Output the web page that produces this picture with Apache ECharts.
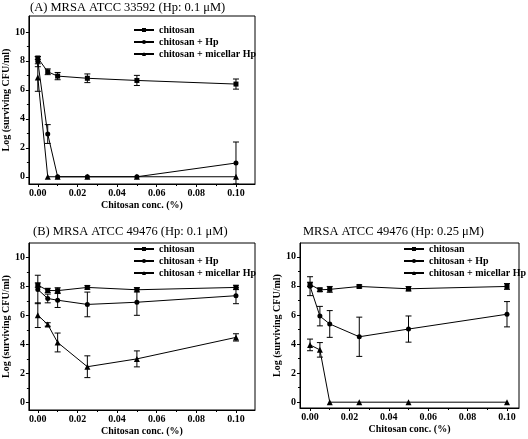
<!DOCTYPE html>
<html><head><meta charset="utf-8">
<script src="https://cdn.jsdelivr.net/npm/echarts@6/dist/echarts.min.js"></script>
<style>html,body{margin:0;padding:0;background:#fff}#c{width:528px;height:439px}</style>
</head><body><div id="c"></div>
<script>
const conc = [0, 0.005, 0.01, 0.025, 0.05, 0.1];
const seriesNames = ['chitosan', 'chitosan + Hp', 'chitosan + micellar Hp'];
const panelTitles = ['(A) MRSA ATCC 33592 (Hp: 0.1 μM)', '(B) MRSA ATCC 49476 (Hp: 0.1 μM)', 'MRSA ATCC 49476 (Hp: 0.25 μM)'];
const xTickLabels = [0, 0.02, 0.04, 0.06, 0.08, 0.10];
const xMinorTicks = [0.01, 0.03, 0.05, 0.07, 0.09];
const yTickLabels = [0, 2, 4, 6, 8, 10];
const yMinorTicks = [1, 3, 5, 7, 9];
const xAxisTitle = 'Chitosan conc. (%)';
const yAxisTitle = 'Log (surviving CFU/ml)';

// Panel A
const aChitosan = [8.2, 7.25, 6.95, 6.8, 6.65, 6.4];
const aChitosanErr = [0.1, 0.2, 0.25, 0.3, 0.35, 0.35];
const aHp = [7.95, 2.95, 0, 0, 0, 0.95];
const aHpErr = [0.35, 0.65, 0, 0, 0, 1.45];
const aMicellar = [6.85, 0, 0, 0, 0, 0];
const aMicellarErr = [0.95, 0, 0, 0, 0, 0];
// Panel B
const bChitosan = [8.1, 7.73, 7.72, 7.94, 7.78, 7.94];
const bChitosanErr = [0.15, 0.15, 0.2, 0.12, 0.15, 0.15];
const bHp = [7.8, 7.18, 7.06, 6.77, 6.92, 7.37];
const bHpErr = [0.98, 0.3, 0.5, 0.85, 0.9, 0.55];
const bMicellar = [6.03, 5.39, 4.15, 2.48, 3.02, 4.5];
const bMicellarErr = [0.85, 0.12, 0.65, 0.75, 0.55, 0.25];
// Panel C
const cChitosan = [8.1, 7.73, 7.76, 7.96, 7.8, 7.96];
const cChitosanErr = [0.15, 0.12, 0.2, 0.1, 0.15, 0.2];
const cHp = [7.98, 5.92, 5.38, 4.5, 5.03, 6.05];
const cHpErr = [0.65, 0.67, 0.92, 1.35, 0.9, 0.87];
const cMicellar = [3.94, 3.6, 0, 0, 0, 0];
const cMicellarErr = [0.4, 0.5, 0, 0, 0, 0];

const panels = [
  {vals: [aChitosan, aHp, aMicellar], errs: [aChitosanErr, aHpErr, aMicellarErr],
   grid: {left: 28, top: 16, width: 227, height: 168}, x: [-0.0045, 0.1096], y: [-0.5, 11.1],
   title: {left: 30, top: 1}, legend: {left: 133, top: 24}, yName: {gap: 15}},
  {vals: [bChitosan, bHp, bMicellar], errs: [bChitosanErr, bHpErr, bMicellarErr],
   grid: {left: 28, top: 243, width: 227, height: 167}, x: [-0.0045, 0.1096], y: [-0.5, 11.0],
   title: {left: 33, top: 225}, legend: {left: 133, top: 243}, yName: {gap: 15}},
  {vals: [cChitosan, cHp, cMicellar], errs: [cChitosanErr, cHpErr, cMicellarErr],
   grid: {left: 300, top: 243, width: 219, height: 165}, x: [-0.0051, 0.1061], y: [-0.4, 10.95],
   title: {left: 303, top: 225}, legend: {left: 403, top: 243}, yName: {gap: 15}}
];
const symbols = ['rect', 'circle', 'triangle'];
const symbolSizes = [5, 5, 6];
const FONT = 'Liberation Serif';

const option = {
  backgroundColor: '#fff', animation: false,
  title: [], legend: [], grid: [], xAxis: [], yAxis: [], series: []
};

panels.forEach((p, i) => {
  option.title.push({text: panelTitles[i], left: p.title.left, top: p.title.top, padding: 0,
    textStyle: {fontFamily: FONT, fontSize: 12.5, fontWeight: 'normal', color: '#000'}});
  option.grid.push(Object.assign({show: true, borderColor: '#000', borderWidth: 1, backgroundColor: 'transparent'}, p.grid));
  option.legend.push({orient: 'vertical', left: p.legend.left, top: p.legend.top, data: seriesNames,
    itemWidth: 20, itemHeight: 5, itemGap: 0, padding: 0,
    textStyle: {fontFamily: FONT, fontSize: 10, fontWeight: 'bold', color: '#000', lineHeight: 12}});
  const axBase = {type: 'value', gridIndex: i, splitLine: {show: false}};
  option.xAxis.push(Object.assign({}, axBase, {min: p.x[0], max: p.x[1], position: 'bottom',
    name: xAxisTitle, nameLocation: 'middle', nameGap: 16,
    nameTextStyle: {fontFamily: FONT, fontSize: 10, fontWeight: 'bold', color: '#000'},
    axisLine: {show: true, onZero: false, lineStyle: {color: '#000', width: 1}},
    axisTick: {show: true, length: 3, customValues: xTickLabels, lineStyle: {color: '#000'}},
    axisLabel: {customValues: xTickLabels, margin: 4, formatter: v => v.toFixed(2),
      fontFamily: FONT, fontSize: 10, fontWeight: 'bold', color: '#000'}}));
  option.xAxis.push(Object.assign({}, axBase, {min: p.x[0], max: p.x[1], position: 'bottom',
    axisLine: {show: false, onZero: false},
    axisTick: {show: true, length: 2, customValues: xMinorTicks, lineStyle: {color: '#000'}},
    axisLabel: {show: false}}));
  option.yAxis.push(Object.assign({}, axBase, {min: p.y[0], max: p.y[1], position: 'left',
    name: yAxisTitle, nameLocation: 'middle', nameGap: p.yName.gap,
    nameTextStyle: {fontFamily: FONT, fontSize: 10, fontWeight: 'bold', color: '#000'},
    axisLine: {show: true, onZero: false, lineStyle: {color: '#000', width: 1}},
    axisTick: {show: true, length: 3, customValues: yTickLabels, lineStyle: {color: '#000'}},
    axisLabel: {customValues: yTickLabels, margin: 4,
      fontFamily: FONT, fontSize: 10, fontWeight: 'bold', color: '#000'}}));
  option.yAxis.push(Object.assign({}, axBase, {min: p.y[0], max: p.y[1], position: 'left',
    axisLine: {show: false, onZero: false},
    axisTick: {show: true, length: 2, customValues: yMinorTicks, lineStyle: {color: '#000'}},
    axisLabel: {show: false}}));
  const xi = i * 2, yi = i * 2;
  p.vals.forEach((vals, k) => {
    option.series.push({type: 'line', name: seriesNames[k], xAxisIndex: xi, yAxisIndex: yi,
      data: conc.map((c, j) => [c, vals[j]]), symbol: symbols[k], symbolSize: symbolSizes[k],
      showSymbol: true, lineStyle: {color: '#000', width: 1}, itemStyle: {color: '#000'}, z: 3});
    option.series.push({type: 'custom', xAxisIndex: xi, yAxisIndex: yi, z: 2,
      data: conc.map((c, j) => [c, vals[j], p.errs[k][j]]),
      renderItem: (params, api) => {
        const x = api.value(0), y = api.value(1), e = api.value(2);
        if (!e) return null;
        const top = api.coord([x, y + e]), bot = api.coord([x, y - e]);
        const w = 3;
        const st = {stroke: '#000', lineWidth: 1};
        return {type: 'group', children: [
          {type: 'line', shape: {x1: top[0], y1: top[1], x2: bot[0], y2: bot[1]}, style: st},
          {type: 'line', shape: {x1: top[0] - w, y1: top[1], x2: top[0] + w, y2: top[1]}, style: st},
          {type: 'line', shape: {x1: bot[0] - w, y1: bot[1], x2: bot[0] + w, y2: bot[1]}, style: st}
        ]};
      }});
  });
});

const chart = echarts.init(document.getElementById('c'), null, {renderer: 'canvas'});
chart.setOption(option);
</script></body></html>
